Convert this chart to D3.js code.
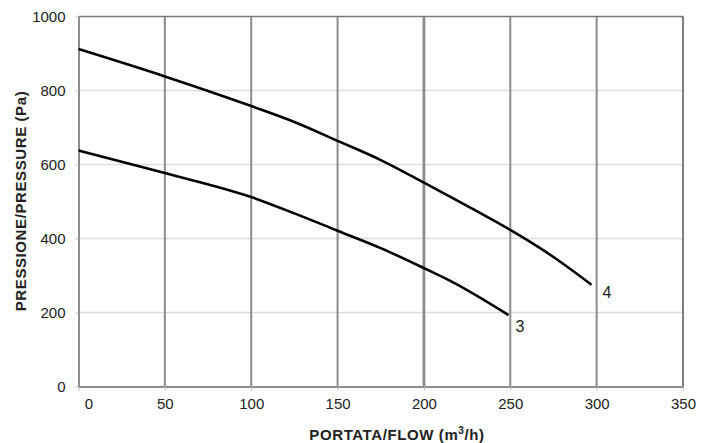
<!DOCTYPE html>
<html><head><meta charset="utf-8">
<script src="https://cdn.jsdelivr.net/npm/d3@7"></script>
<style>body{margin:0;background:#fff}svg{display:block;font-family:"Liberation Sans",Arial,sans-serif}</style>
</head><body><svg id="c" width="709" height="443"></svg>
<script>
const xTicks = [0,50,100,150,200,250,300,350];
const yTicks = [0,200,400,600,800,1000];
const curve3 = [[0,638],[50,577],[100,512],[125,468],[150,421],[175,374],[200,320],[215,286],[249,193]];
const curve4 = [[0,912],[50,838],[100,758],[125,715],[150,664],[175,612],[200,551],[225,488],[250,423],[275,350],[297,275]];
const curveLabels = ["3","4"];

const svg = d3.select("#c");
const m = {l:78.5, r:683, t:16.5, b:386.5};
const x = d3.scaleLinear().domain([0,350]).range([m.l,m.r]);
const y = d3.scaleLinear().domain([0,1000]).range([m.b,m.t]);

// horizontal grid
svg.append("g").selectAll("line").data(yTicks.filter(d=>d>0&&d<1000)).join("line")
  .attr("x1",m.l).attr("x2",m.r).attr("y1",d=>y(d)).attr("y2",d=>y(d))
  .attr("stroke","#dcdcdc").attr("stroke-width",1.5);
// vertical grid
svg.append("g").selectAll("line").data(xTicks.filter(d=>d>0&&d<350)).join("line")
  .attr("x1",d=>x(d)).attr("x2",d=>x(d)).attr("y1",m.t).attr("y2",m.b)
  .attr("stroke","#8c8c8c").attr("stroke-width",d=>d===200?2.8:2);
// borders
svg.append("line").attr("x1",m.l).attr("x2",m.r).attr("y1",m.t).attr("y2",m.t).attr("stroke","#7a7a7a").attr("stroke-width",1.5);
svg.append("line").attr("x1",m.r).attr("x2",m.r).attr("y1",m.t).attr("y2",m.b).attr("stroke","#000").attr("stroke-width",1);

// axes
const xa = svg.append("g").attr("transform",`translate(0,${m.b})`)
  .call(d3.axisBottom(x).tickValues(xTicks).tickFormat(d3.format("d")).tickSize(4).tickPadding(8).tickSizeOuter(0));
xa.select(".domain").attr("stroke","#8c8c8c").attr("stroke-width",2);
xa.selectAll(".tick line").attr("stroke","#bbb");
xa.selectAll(".tick text").style("font-size","15px").attr("fill","#222")
  .attr("dx",d=>d===0?10:0);
const ya = svg.append("g").attr("transform",`translate(${m.l},0)`)
  .call(d3.axisLeft(y).tickValues(yTicks).tickFormat(d3.format("d")).tickSize(3).tickPadding(10).tickSizeOuter(0));
ya.select(".domain").attr("stroke","#8c8c8c").attr("stroke-width",2);
ya.selectAll(".tick line").attr("stroke","#bbb");
ya.selectAll(".tick text").style("font-size","15px").attr("fill","#222");

// curves
const line = d3.line().x(d=>x(d[0])).y(d=>y(d[1])).curve(d3.curveMonotoneX);
const labelOff = [[7,17],[11,13]];
[curve3,curve4].forEach((c,i)=>{
  svg.append("path").datum(c).attr("d",line).attr("fill","none").attr("stroke","#000").attr("stroke-width",2.6);
  const e = c[c.length-1];
  svg.append("text").attr("x",x(e[0])+labelOff[i][0]).attr("y",y(e[1])+labelOff[i][1])
    .style("font-size","16px").attr("fill","#222").text(curveLabels[i]);
});

// titles
const xt = svg.append("text").attr("x",397).attr("y",440).attr("text-anchor","middle")
  .style("font-size","15px").style("letter-spacing","0.6px").attr("font-weight","bold").attr("fill","#222");
xt.append("tspan").text("PORTATA/FLOW (m");
xt.append("tspan").style("font-size","10px").attr("dy",-6).text("3");
xt.append("tspan").attr("dy",6).text("/h)");
svg.append("text").attr("transform","translate(26,201) rotate(-90)").attr("text-anchor","middle")
  .style("font-size","15px").style("letter-spacing","0.6px").attr("font-weight","bold").attr("fill","#222").text("PRESSIONE/PRESSURE (Pa)");
</script></body></html>
